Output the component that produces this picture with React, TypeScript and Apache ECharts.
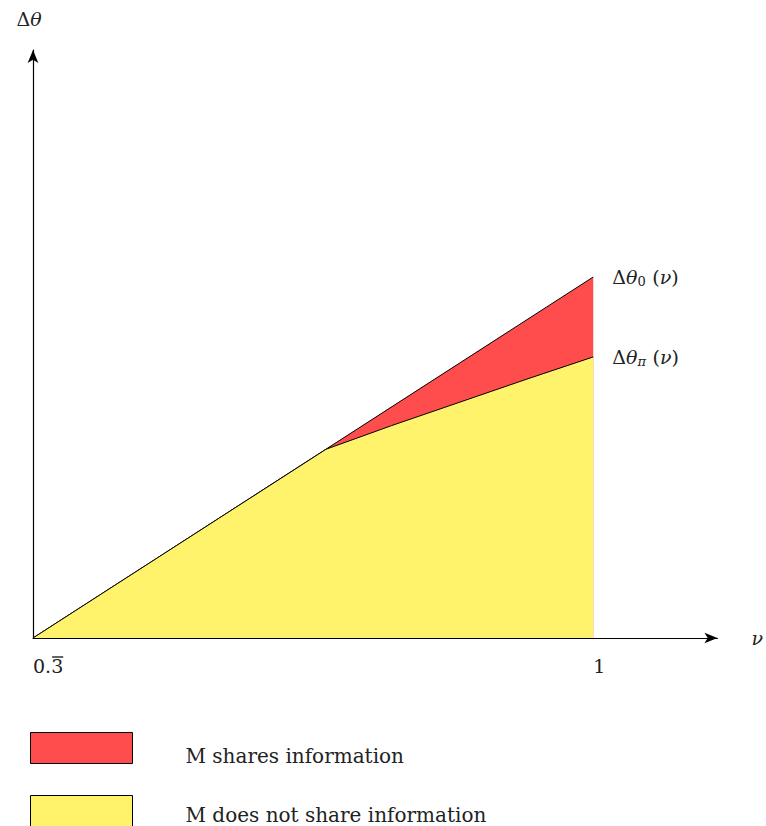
import React, { useEffect, useRef } from "react";
import * as echarts from "echarts";

// ν runs from 1/3 to 1; Δθ is in arbitrary units
const nuZero = [1 / 3, 1];
const thetaZero = [0, 0.614];

const nuPi = [1 / 3, 0.682, 0.76, 0.838, 0.92, 1];
const thetaPi = [0, 0.321, 0.3612, 0.3995, 0.4398, 0.478];

const tickValues = [1 / 3, 1];
const tickLabels = ["0.3", "1"];

const legendNames = ["M shares information", "M does not share information"];

const RED = "#FF4C4C";
const YELLOW = "#FFF36B";
const INK = "#222";
const SERIF = "'DejaVu Serif', 'Liberation Serif', serif";
const TICK_FONT = 19;
const TICK_MARGIN = 18;

const richMath = {
  d: { fontFamily: SERIF, fontSize: 19, color: INK },
  t: { fontFamily: SERIF, fontSize: 19, fontStyle: "italic", color: INK },
  s: { fontFamily: SERIF, fontSize: 13, color: INK, padding: [10, 0, 0, 0] },
  si: { fontFamily: SERIF, fontSize: 13, fontStyle: "italic", color: INK, padding: [10, 0, 0, 0] },
  p: { fontFamily: SERIF, fontSize: 19, color: INK },
};

function legendBlock(name: string, color: string, top: number, drop: number) {
  return {
    orient: "vertical",
    left: 30,
    top,
    padding: 0,
    itemWidth: 102,
    itemHeight: 31,
    icon: "rect",
    selectedMode: false,
    formatter: "{g|}{a|{name}}",
    textStyle: {
      rich: {
        g: { width: 48 },
        a: { fontFamily: SERIF, fontSize: 20, color: INK, padding: [drop, 0, 0, 0] },
      },
    },
    data: [{ name, itemStyle: { color, borderColor: "#000", borderWidth: 1 } }],
  };
}

export default function App() {
  const ref = useRef<HTMLDivElement>(null);

  useEffect(() => {
    document.body.style.margin = "0";
    if (!ref.current) return;
    const chart = echarts.init(ref.current, undefined, { renderer: "svg" });

    const zeroData = nuZero.map((x, i) => [x, thetaZero[i]]);
    const piData = nuPi.map((x, i) => [x, thetaPi[i]]);

    chart.setOption({
      animation: false,
      grid: { left: 33, right: 44, top: 50, bottom: 188 },
      xAxis: {
        type: "value",
        min: 1 / 3,
        max: 1.1478,
        name: "{t|ν}",
        nameLocation: "end",
        nameGap: 34,
        nameTextStyle: { rich: richMath },
        axisLine: {
          show: true,
          symbol: ["none", "arrow"],
          symbolSize: [8, 13],
          lineStyle: { color: "#000", width: 1.2 },
        },
        axisTick: { show: false },
        splitLine: { show: false },
        axisLabel: {
          customValues: tickValues,
          formatter: (v: number) => {
            const i = tickValues.findIndex((t) => Math.abs(t - v) < 1e-6);
            return i >= 0 ? tickLabels[i] : "";
          },
          align: "left",
          margin: TICK_MARGIN,
          fontFamily: SERIF,
          fontSize: TICK_FONT,
          color: INK,
        },
      },
      yAxis: {
        type: "value",
        min: 0,
        max: 1,
        name: "{d|Δ}{t|θ}",
        nameLocation: "end",
        nameGap: 22,
        nameTextStyle: { rich: richMath, align: "center", padding: [0, 8, 0, 0] },
        axisLine: {
          show: true,
          symbol: ["none", "arrow"],
          symbolSize: [8, 13],
          lineStyle: { color: "#000", width: 1.2 },
        },
        axisTick: { show: false },
        splitLine: { show: false },
        axisLabel: { show: false },
      },
      legend: [
        legendBlock(legendNames[0], RED, 732, 16),
        legendBlock(legendNames[1], YELLOW, 795, 7),
      ],
      series: [
        {
          name: legendNames[0],
          type: "line",
          data: zeroData,
          showSymbol: false,
          symbol: "none",
          lineStyle: { color: "#000", width: 1 },
          itemStyle: { color: RED },
          areaStyle: { color: RED, opacity: 1 },
          z: 2,
          endLabel: {
            show: true,
            distance: 19,
            formatter: "{d|Δ}{t|θ}{s|0}  {p|(}{t|ν}{p|)}",
            rich: richMath,
          },
        },
        {
          name: legendNames[1],
          type: "line",
          data: piData,
          showSymbol: false,
          symbol: "none",
          lineStyle: { color: "#000", width: 1 },
          itemStyle: { color: YELLOW },
          areaStyle: { color: YELLOW, opacity: 1 },
          z: 3,
          endLabel: {
            show: true,
            distance: 19,
            formatter: "{d|Δ}{t|θ}{si|π}  {p|(}{t|ν}{p|)}",
            rich: richMath,
          },
        },
      ],
    });

    // Repeating-decimal bar over the "3" of the first tick label
    const [ox, oy] = chart.convertToPixel({ xAxisIndex: 0, yAxisIndex: 0 }, [tickValues[0], 0]);
    const ctx = document.createElement("canvas").getContext("2d");
    let w0 = 18;
    let w3 = 12;
    if (ctx) {
      ctx.font = `${TICK_FONT}px ${SERIF}`;
      w0 = ctx.measureText("0.").width;
      w3 = ctx.measureText("3").width;
    }
    const barY = oy + TICK_MARGIN + 1;
    chart.setOption({
      graphic: [
        {
          type: "line",
          shape: { x1: ox + w0 + 1, y1: barY, x2: ox + w0 + w3, y2: barY },
          style: { stroke: INK, lineWidth: 1.4 },
          silent: true,
        },
      ],
    });

    return () => chart.dispose();
  }, []);

  return <div ref={ref} style={{ width: 766, height: 826 }} />;
}
